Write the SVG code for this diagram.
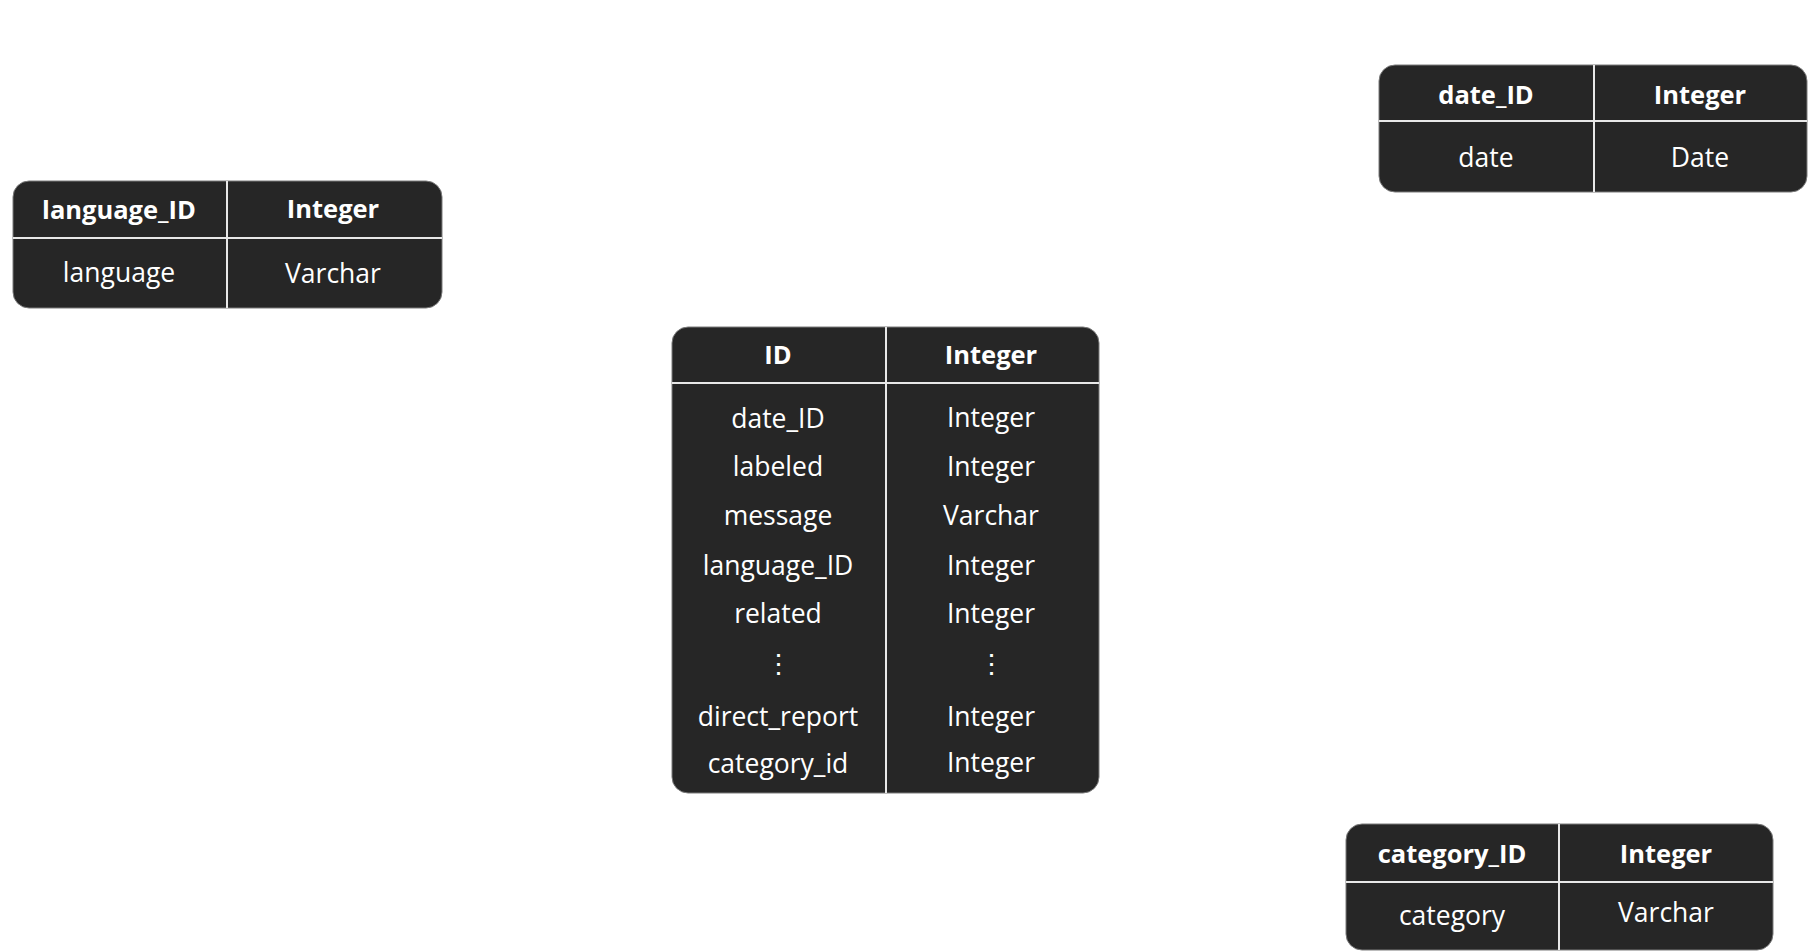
<svg xmlns="http://www.w3.org/2000/svg" width="1810" height="952" viewBox="0 0 1810 952">
<style>
.box{fill:#262626;stroke:#7a7a7a;stroke-width:1}
.div{stroke:#e8e8e8;stroke-width:2}
text{font-family:"Open Sans","Noto Sans",sans-serif;fill:#ffffff;text-anchor:middle}
.h{font-weight:bold;font-size:25.5px}
.r{font-size:26.5px}
</style>
<rect width="1810" height="952" fill="#ffffff"/>
<g id="language">
<rect class="box" x="13" y="181" width="429" height="127" rx="16"/>
<line class="div" x1="13" y1="238" x2="442" y2="238"/>
<line class="div" x1="227" y1="181" x2="227" y2="308"/>
<text class="h" x="119" y="219">language_ID</text>
<text class="h" x="333" y="218">Integer</text>
<text class="r" x="119" y="282">language</text>
<text class="r" x="333" y="283">Varchar</text>
</g>
<g id="main">
<rect class="box" x="672" y="327" width="427" height="466" rx="16"/>
<line class="div" x1="672" y1="383" x2="1099" y2="383"/>
<line class="div" x1="886" y1="327" x2="886" y2="793"/>
<text class="h" x="778" y="364">ID</text>
<text class="h" x="991" y="364">Integer</text>
<text class="r" x="778" y="428">date_ID</text>
<text class="r" x="991" y="427">Integer</text>
<text class="r" x="778" y="476">labeled</text>
<text class="r" x="991" y="476">Integer</text>
<text class="r" x="778" y="525">message</text>
<text class="r" x="991" y="525">Varchar</text>
<text class="r" x="778" y="575">language_ID</text>
<text class="r" x="991" y="575">Integer</text>
<text class="r" x="778" y="623">related</text>
<text class="r" x="991" y="623">Integer</text>
<text class="r" x="778" y="673">⋮</text>
<text class="r" x="991" y="673">⋮</text>
<text class="r" x="778" y="726">direct_report</text>
<text class="r" x="991" y="726">Integer</text>
<text class="r" x="778" y="773">category_id</text>
<text class="r" x="991" y="772">Integer</text>
</g>
<g id="date">
<rect class="box" x="1379" y="65" width="428" height="127" rx="16"/>
<line class="div" x1="1379" y1="121" x2="1807" y2="121"/>
<line class="div" x1="1594" y1="65" x2="1594" y2="192"/>
<text class="h" x="1486" y="104">date_ID</text>
<text class="h" x="1700" y="104">Integer</text>
<text class="r" x="1486" y="167">date</text>
<text class="r" x="1700" y="167">Date</text>
</g>
<g id="category">
<rect class="box" x="1346" y="824" width="427" height="126" rx="16"/>
<line class="div" x1="1346" y1="882" x2="1773" y2="882"/>
<line class="div" x1="1559" y1="824" x2="1559" y2="950"/>
<text class="h" x="1452" y="863">category_ID</text>
<text class="h" x="1666" y="863">Integer</text>
<text class="r" x="1452" y="925">category</text>
<text class="r" x="1666" y="922">Varchar</text>
</g>
<g id="connectors"></g>
</svg>
